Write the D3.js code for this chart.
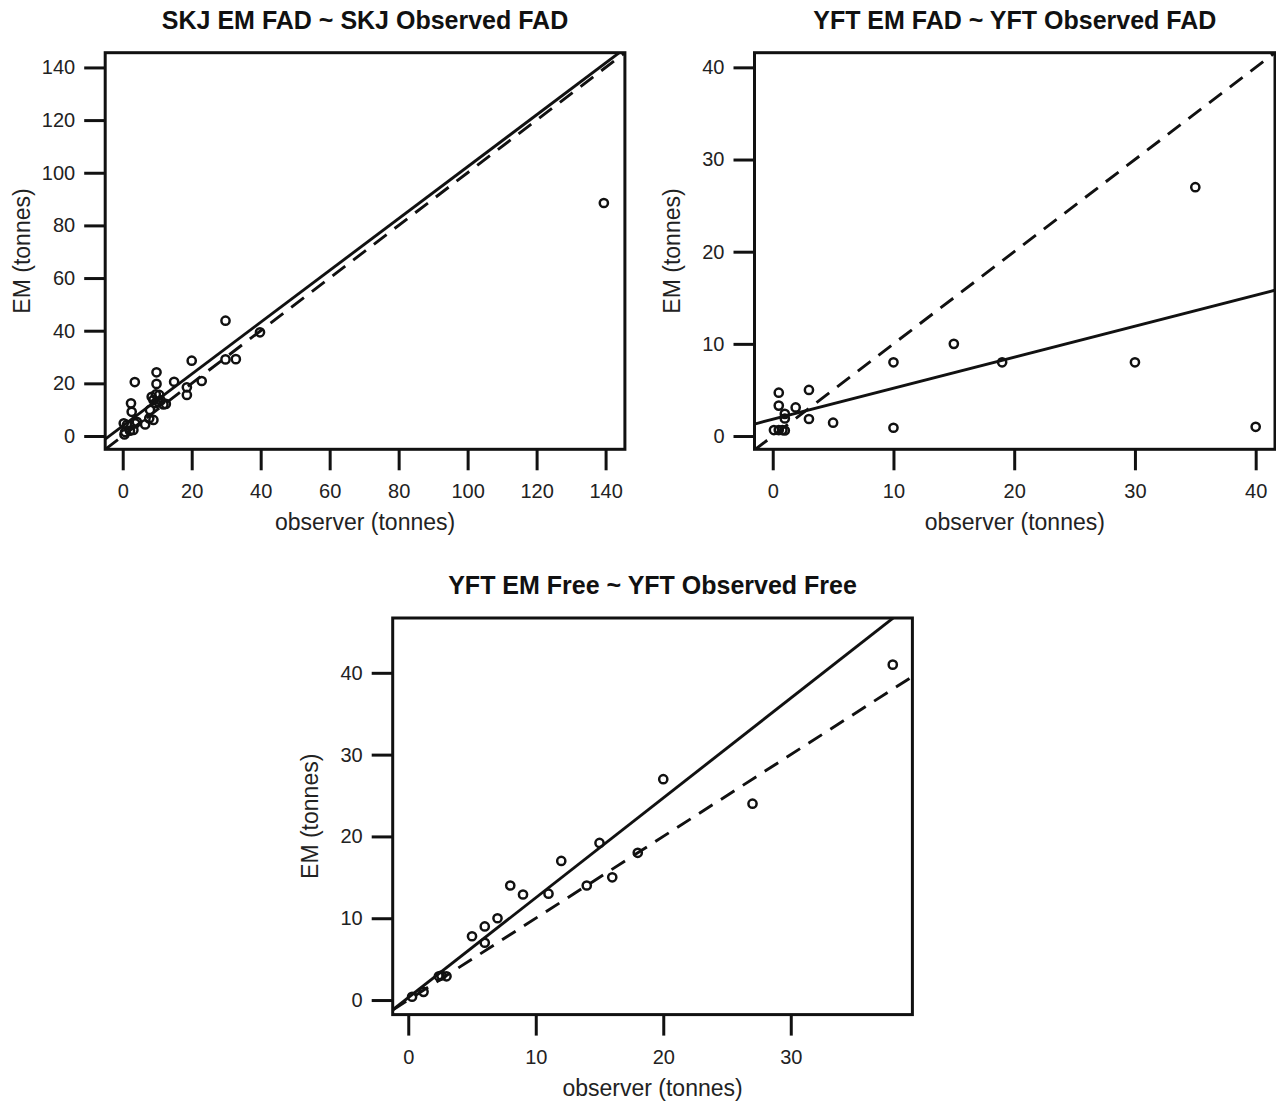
<!DOCTYPE html>
<html><head><meta charset="utf-8">
<script src="https://cdn.jsdelivr.net/npm/d3@7"></script>
<style>body{margin:0;background:#fff}</style>
</head><body>
<svg id="chart" width="1276" height="1101"></svg>
<script>
// ---- data (observer tonnes, EM tonnes) ----
const skjFadObserved = [0.5,0.7,1.2,0.3,2.1,3.1,3.6,4.1,2.6,2.4,3.5,6.5,7.7,8.9,7.9,8.4,9.6,10.6,8.9,10.3,11.8,9.5,11.0,12.5,9.8,9.8,14.9,18.6,18.6,20.0,22.9,29.8,29.8,32.8,39.8,139.5];
const skjFadEM       = [0.6,1.5,4.2,4.8,2.0,2.3,4.8,5.4,9.2,12.4,20.5,4.4,6.7,6.1,9.9,14.9,15.8,15.6,13.7,13.0,12.0,12.5,13.5,12.2,19.8,24.2,20.6,18.5,15.6,28.6,20.9,43.8,29.1,29.2,39.4,88.5];

const yftFadObserved = [0.5,0.5,3.0,1.9,1.0,1.0,3.0,5.0,0.1,0.5,0.8,1.0,10,10,15,19,30,35,40];
const yftFadEM       = [4.7,3.3,5.0,3.1,2.4,1.9,1.85,1.45,0.65,0.65,0.65,0.6,8,0.9,10,8,8,27,1];

const yftFreeObserved = [0.3,1.2,2.4,2.6,3.0,5,6,6,7,8,9,11,12,14,15,16,18,20,27,38];
const yftFreeEM       = [0.4,1.0,2.9,3.0,2.9,7.8,7,9,10,14,12.9,13,17,14,19.2,15,18,27,24,41];

// regression fits [intercept, slope]; dashed line is the 1:1 line
const skjFadFit  = [3.8, 0.985];
const yftFadFit  = [1.81, 0.337];
const yftFreeFit = [0.3, 1.22];

// tick labels
const skjTicks      = [0,20,40,60,80,100,120,140];
const yftFadTicks   = [0,10,20,30,40];
const yftFreeXTicks = [0,10,20,30];
const yftFreeYTicks = [0,10,20,30,40];

const titles = ["SKJ EM FAD ~ SKJ Observed FAD","YFT EM FAD ~ YFT Observed FAD","YFT EM Free ~ YFT Observed Free"];
const xLabel = "observer (tonnes)";
const yLabel = "EM (tonnes)";

// ---- layout ----
const panels = [
  {title:titles[0], obs:skjFadObserved, em:skjFadEM, fit:skjFadFit, xt:skjTicks, yt:skjTicks,
   box:{x:105.2,y:52.7,w:519.7,h:396.6}, xd:[-5.08,145.6], yd:[-5.05,145.6]},
  {title:titles[1], obs:yftFadObserved, em:yftFadEM, fit:yftFadFit, xt:yftFadTicks, yt:yftFadTicks,
   box:{x:754.5,y:52.7,w:520.5,h:396.6}, xd:[-1.51,41.6], yd:[-1.44,41.59]},
  {title:titles[2], obs:yftFreeObserved, em:yftFreeEM, fit:yftFreeFit, xt:yftFreeXTicks, yt:yftFreeYTicks,
   box:{x:392.7,y:618,w:519.7,h:396.6}, xd:[-1.22,39.54], yd:[-1.78,46.7]}
];

const ink = "#111";
const svg = d3.select("#chart");
const font = "'Liberation Sans', Arial, Helvetica, sans-serif";

panels.forEach((p, i) => {
  const b = p.box;
  const x = d3.scaleLinear().domain(p.xd).range([b.x, b.x + b.w]);
  const y = d3.scaleLinear().domain(p.yd).range([b.y + b.h, b.y]);
  const g = svg.append("g");

  const clipId = "clip" + i;
  svg.append("clipPath").attr("id", clipId)
    .append("rect").attr("x", b.x).attr("y", b.y).attr("width", b.w).attr("height", b.h);

  // axes
  const xa = g.append("g").attr("transform", `translate(0,${b.y + b.h})`)
    .call(d3.axisBottom(x).tickValues(p.xt).tickSize(21).tickPadding(14).tickFormat(d3.format("d")));
  const ya = g.append("g").attr("transform", `translate(${b.x},0)`)
    .call(d3.axisLeft(y).tickValues(p.yt).tickSize(21).tickPadding(9).tickFormat(d3.format("d")));
  [xa, ya].forEach(a => {
    a.select(".domain").remove();
    a.selectAll("line").attr("stroke", ink).attr("stroke-width", 3);
    a.selectAll("text").attr("fill", "#222").style("font-family", font).style("font-size", "20px");
  });

  const pg = g.append("g").attr("clip-path", `url(#${clipId})`);
  const line = d3.line().x(d => x(d[0])).y(d => y(d[1]));

  // 1:1 dashed
  pg.append("path")
    .attr("d", line([[p.xd[0], p.xd[0]], [p.xd[1], p.xd[1]]]))
    .attr("fill", "none").attr("stroke", ink).attr("stroke-width", 2.9)
    .attr("stroke-dasharray", "16,10");
  // fit solid
  pg.append("path")
    .attr("d", line([[p.xd[0], p.fit[0] + p.fit[1] * p.xd[0]], [p.xd[1], p.fit[0] + p.fit[1] * p.xd[1]]]))
    .attr("fill", "none").attr("stroke", ink).attr("stroke-width", 2.9);

  // points
  pg.selectAll("circle").data(p.obs.map((o, k) => [o, p.em[k]])).join("circle")
    .attr("cx", d => x(d[0])).attr("cy", d => y(d[1])).attr("r", 4.1)
    .attr("fill", "none").attr("stroke", ink).attr("stroke-width", 2.5);

  // box
  g.append("rect").attr("x", b.x).attr("y", b.y).attr("width", b.w).attr("height", b.h)
    .attr("fill", "none").attr("stroke", ink).attr("stroke-width", 3);

  // title
  g.append("text").attr("x", b.x + b.w / 2).attr("y", b.y - 24)
    .attr("text-anchor", "middle").attr("fill", "#111")
    .style("font-family", font).style("font-size", "25px").style("font-weight", "bold")
    .text(p.title);
  // x label
  g.append("text").attr("x", b.x + b.w / 2).attr("y", b.y + b.h + 81)
    .attr("text-anchor", "middle").attr("fill", "#222")
    .style("font-family", font).style("font-size", "23px").text(xLabel);
  // y label
  g.append("text").attr("transform", `translate(${b.x - 75},${b.y + b.h / 2}) rotate(-90)`)
    .attr("text-anchor", "middle").attr("fill", "#222")
    .style("font-family", font).style("font-size", "23px").text(yLabel);
});
</script>
</body></html>
